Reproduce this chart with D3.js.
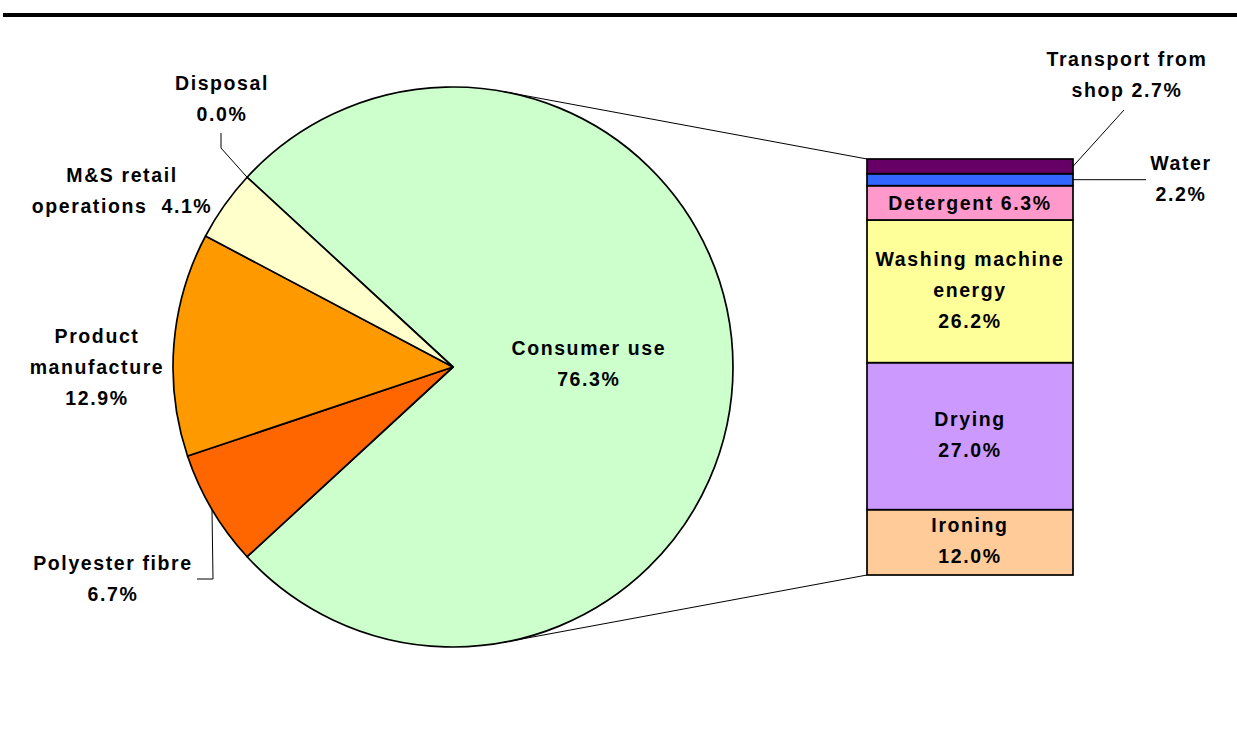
<!DOCTYPE html>
<html>
<head>
<meta charset="utf-8">
<script src="https://cdn.jsdelivr.net/npm/d3@7"></script>
<style>
  html, body { margin: 0; padding: 0; background: #fff; }
  svg { display: block; }
  text { font-family: "Liberation Sans", Arial, sans-serif; font-weight: bold; font-size: 19.5px; letter-spacing: 1.6px; fill: #000; white-space: pre; }
</style>
</head>
<body>
<svg id="chart" width="1237" height="731"></svg>
<script>
// Life-cycle energy shares (% of total)
const pieNames  = ["Consumer use", "Polyester fibre", "Product manufacture", "M&S retail operations", "Disposal"];
const pieValues = [76.3, 6.7, 12.9, 4.1, 0.0];
const pieColors = ["#CCFFCC", "#FF6600", "#FF9900", "#FFFFCC", "#FFFFFF"];

// Breakdown of the consumer-use slice, bottom to top
const barNames  = ["Ironing", "Drying", "Washing machine energy", "Detergent", "Water", "Transport from shop"];
const barValues = [12.0, 27.0, 26.2, 6.3, 2.2, 2.7];
const barColors = ["#FFCC99", "#CC99FF", "#FFFF99", "#FF99CC", "#3366FF", "#660066"];

const fmt = v => v.toFixed(1) + "%";

const svg = d3.select("#chart");

// heavy rule across the top
svg.append("line")
  .attr("x1", 3).attr("x2", 1237).attr("y1", 15).attr("y2", 15)
  .attr("stroke", "#000").attr("stroke-width", 4);

// ---- pie ----
const cx = 453, cy = 367, R = 280;
const total = d3.sum(pieValues);
const mainSpan = pieValues[0] / total * 2 * Math.PI;
const start = Math.PI / 2 - mainSpan / 2;   // consumer use centred on the right

const pie = d3.pie().sort(null).value(d => d.value)
  .startAngle(start).endAngle(start + 2 * Math.PI);
const pieData = pieNames.map((n, i) => ({ name: n, value: pieValues[i], color: pieColors[i] }));
const arcs = pie(pieData);
const arc = d3.arc().innerRadius(0).outerRadius(R);

const gPie = svg.append("g").attr("transform", `translate(${cx},${cy})`);
gPie.selectAll("path").data(arcs.filter(a => a.data.value > 0)).join("path")
  .attr("d", arc)
  .attr("fill", d => d.data.color)
  .attr("stroke", "#000").attr("stroke-width", 1.7).attr("stroke-linejoin", "round");

const edgePoint = (a, r) => {
  const m = (a.startAngle + a.endAngle) / 2;
  return [cx + r * Math.sin(m), cy - r * Math.cos(m)];
};

// ---- stacked bar ----
const barX0 = 867, barX1 = 1073;
const barTotal = d3.sum(barValues);
const y = d3.scaleLinear().domain([0, barTotal]).range([575, 159]);
let acc = 0;
const barData = barNames.map((n, i) => {
  const d = { name: n, value: barValues[i], color: barColors[i], y0: acc, y1: acc + barValues[i] };
  acc += barValues[i];
  return d;
});

// series lines: tangent from each bar corner to the pie
function tangent(px, py, upper) {
  const dx = px - cx, dy = py - cy;
  const d = Math.hypot(dx, dy);
  const th = Math.atan2(dy, dx);
  const al = Math.acos(R / d);
  const t = upper ? th - al : th + al;
  return [cx + R * Math.cos(t), cy + R * Math.sin(t)];
}
[[y(barTotal), true], [y(0), false]].forEach(([py, up]) => {
  const t = tangent(barX0, py, up);
  svg.append("line")
    .attr("x1", t[0]).attr("y1", t[1]).attr("x2", barX0).attr("y2", py)
    .attr("stroke", "#000").attr("stroke-width", 1);
});

svg.append("g").selectAll("rect").data(barData).join("rect")
  .attr("x", barX0).attr("width", barX1 - barX0)
  .attr("y", d => y(d.y1)).attr("height", d => y(d.y0) - y(d.y1))
  .attr("fill", d => d.color)
  .attr("stroke", "#000").attr("stroke-width", 1.7);

// ---- labels ----
const LH = 31;
function label(lines, x, yc) {
  const n = lines.length;
  const g = svg.append("g");
  lines.forEach((t, i) => {
    g.append("text")
      .attr("x", x).attr("y", yc + (i - (n - 1) / 2) * LH + 7)
      .attr("text-anchor", "middle").text(t);
  });
  return g;
}
function leader(pts) {
  svg.append("path").attr("d", d3.line()(pts))
    .attr("fill", "none").attr("stroke", "#000").attr("stroke-width", 1);
}

const byName = n => arcs.find(a => a.data.name === n);

// consumer use label inside its slice
const cu = byName("Consumer use");
const cuPos = edgePoint(cu, R * 0.485);
label(["Consumer use", fmt(cu.data.value)], cuPos[0], cuPos[1] - 4);

// outside pie labels
label(["Disposal", fmt(byName("Disposal").data.value)], 222, 98);
leader([[221, 133], [221, 148], edgePoint(byName("Disposal"), R)]);

label(["M&S retail", "operations  " + fmt(byName("M&S retail operations").data.value)], 122, 190);

label(["Product", "manufacture", fmt(byName("Product manufacture").data.value)], 97, 367);

label(["Polyester fibre", fmt(byName("Polyester fibre").data.value)], 113, 578);
leader([[197, 579], [213, 579], edgePoint(byName("Polyester fibre"), R)]);

// bar segment labels
const seg = n => barData.find(d => d.name === n);
const mid = d => (y(d.y0) + y(d.y1)) / 2;
const bx = (barX0 + barX1) / 2;
[["Ironing", ["Ironing"]], ["Drying", ["Drying"]], ["Washing machine energy", ["Washing machine", "energy"]]]
  .forEach(([n, lines]) => {
    const d = seg(n);
    label(lines.concat([fmt(d.value)]), bx, mid(d) - 1.5);
  });
const det = seg("Detergent");
label(["Detergent " + fmt(det.value)], bx, mid(det));

// small segments labelled outside with leaders
const tr = seg("Transport from shop");
label(["Transport from", "shop " + fmt(tr.value)], 1127, 74);
leader([[1124, 110], [barX1, mid(tr)]]);

const wa = seg("Water");
label(["Water", fmt(wa.value)], 1181, 178);
leader([[barX1, mid(wa)], [1146, mid(wa)]]);
</script>
</body>
</html>
